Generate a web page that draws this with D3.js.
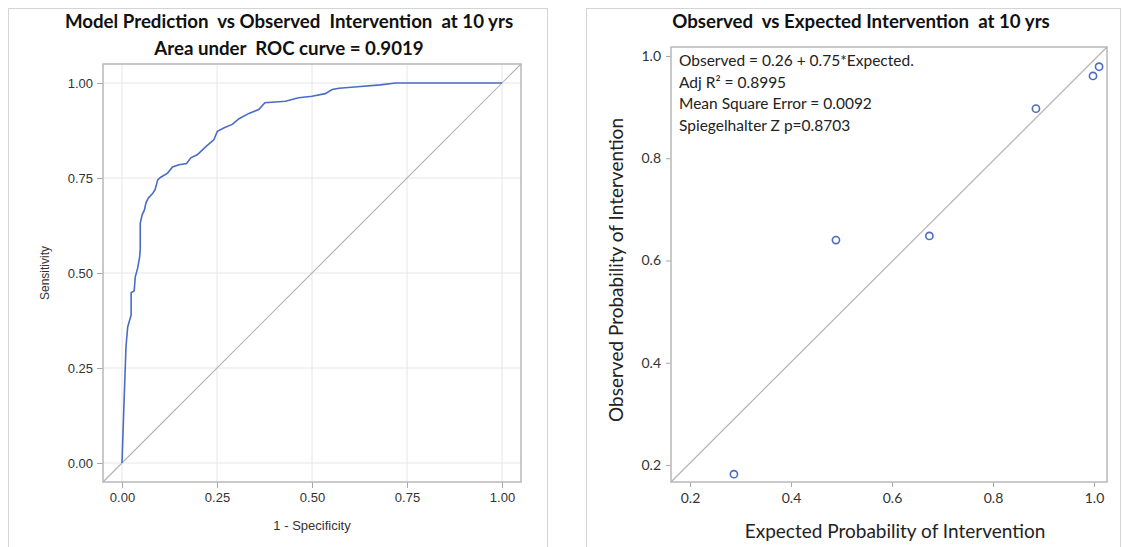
<!DOCTYPE html>
<html>
<head>
<meta charset="utf-8">
<script src="https://cdn.jsdelivr.net/npm/d3@7"></script>
<style>
    body { margin: 0; background: #fff; }
    svg { display: block; }
</style>
</head>
<body>
<svg id="chart" width="1123" height="547"></svg>
<script>
// ROC curve (1 - specificity, sensitivity)
const rocFpr = [0, 0.005, 0.0105, 0.015, 0.024, 0.024, 0.032, 0.035, 0.041, 0.046, 0.048, 0.048, 0.053, 0.059, 0.063, 0.069, 0.081, 0.087, 0.094, 0.102, 0.120, 0.133, 0.150, 0.170, 0.181, 0.198, 0.220, 0.242, 0.251, 0.269, 0.290, 0.308, 0.334, 0.360, 0.376, 0.430, 0.465, 0.500, 0.535, 0.553, 0.571, 0.620, 0.680, 0.720, 1.0];
const rocTpr = [0, 0.15, 0.306, 0.358, 0.389, 0.448, 0.453, 0.490, 0.512, 0.539, 0.561, 0.631, 0.653, 0.666, 0.684, 0.697, 0.710, 0.719, 0.745, 0.752, 0.763, 0.779, 0.785, 0.788, 0.803, 0.811, 0.832, 0.851, 0.873, 0.882, 0.891, 0.906, 0.920, 0.930, 0.948, 0.952, 0.961, 0.965, 0.972, 0.983, 0.986, 0.990, 0.995, 1.0, 1.0];
const rocTicks = [0, 0.25, 0.5, 0.75, 1];

// calibration points (right panel)
const calExpected = [0.287, 0.489, 0.674, 0.885, 0.998, 1.010];
const calObserved = [0.182, 0.640, 0.648, 0.897, 0.961, 0.979];
const calTicks = [0.2, 0.4, 0.6, 0.8, 1.0];

const rocTitle = ["Model Prediction  vs Observed  Intervention  at 10 yrs", "Area under  ROC curve = 0.9019"];
const calTitle = "Observed  vs Expected Intervention  at 10 yrs";
const calNotes = ["Observed = 0.26 + 0.75*Expected.", "Adj R\u00B2 = 0.8995", "Mean Square Error = 0.0092", "Spiegelhalter Z p=0.8703"];

const svg = d3.select("#chart");
const calibri = "Lato, 'Open Sans', sans-serif";
const arial = "'Liberation Sans', Arial, sans-serif";
const blue = "#4a6cc4";

// panel borders
svg.append("rect").attr("x", 8.5).attr("y", 8.5).attr("width", 539).attr("height", 560)
    .attr("fill", "none").attr("stroke", "#d4d4d4");
svg.append("rect").attr("x", 586.5).attr("y", 8.5).attr("width", 534).attr("height", 560)
    .attr("fill", "none").attr("stroke", "#d4d4d4");

// ---------- left panel: ROC ----------
const lx = d3.scaleLinear().domain([-0.05, 1.05]).range([103, 521]);
const ly = d3.scaleLinear().domain([-0.05, 1.05]).range([482, 64]);
const left = svg.append("g");

// gridlines
left.append("g").selectAll("line.v").data(rocTicks).enter().append("line")
    .attr("x1", d => lx(d)).attr("x2", d => lx(d))
    .attr("y1", ly.range()[0]).attr("y2", ly.range()[1])
    .attr("stroke", "#e6e6e6").attr("stroke-width", 1);
left.append("g").selectAll("line.h").data(rocTicks).enter().append("line")
    .attr("x1", lx.range()[0]).attr("x2", lx.range()[1])
    .attr("y1", d => ly(d)).attr("y2", d => ly(d))
    .attr("stroke", "#e6e6e6").attr("stroke-width", 1);

// chance diagonal, corner to corner
left.append("line")
    .attr("x1", lx(-0.05)).attr("y1", ly(-0.05))
    .attr("x2", lx(1.05)).attr("y2", ly(1.05))
    .attr("stroke", "#b4b4b4").attr("stroke-width", 1.2);

const rocLine = d3.line().x(d => lx(d[0])).y(d => ly(d[1]));
left.append("path")
    .datum(d3.zip(rocFpr, rocTpr))
    .attr("d", rocLine)
    .attr("fill", "none").attr("stroke", blue).attr("stroke-width", 1.6);

const lxAxis = left.append("g").attr("transform", `translate(0,${ly.range()[0]})`)
    .call(d3.axisBottom(lx).tickValues(rocTicks).tickFormat(d3.format(".2f")).tickSize(6).tickPadding(5));
const lyAxis = left.append("g").attr("transform", `translate(${lx.range()[0]},0)`)
    .call(d3.axisLeft(ly).tickValues(rocTicks).tickFormat(d3.format(".2f")).tickSize(6).tickPadding(4));
[lxAxis, lyAxis].forEach(a => {
    a.select(".domain").remove();
    a.selectAll(".tick line").attr("stroke", "#a8a8a8");
    a.selectAll(".tick text").attr("fill", "#333").attr("font-family", arial).attr("font-size", 13);
});

// frame
left.append("rect")
    .attr("x", lx.range()[0]).attr("y", ly.range()[1])
    .attr("width", lx.range()[1] - lx.range()[0]).attr("height", ly.range()[0] - ly.range()[1])
    .attr("fill", "none").attr("stroke", "#b8b8b8").attr("stroke-width", 1.5);

left.append("text").attr("x", 312).attr("y", 530).attr("text-anchor", "middle")
    .attr("font-family", arial).attr("font-size", 13).attr("fill", "#333").text("1 - Specificity");
left.append("text").attr("transform", "translate(49,273) rotate(-90)").attr("text-anchor", "middle")
    .attr("font-family", arial).attr("font-size", 12).attr("fill", "#333").text("Sensitivity");

left.selectAll("text.title").data(rocTitle).enter().append("text")
    .attr("x", 289).attr("y", (d, i) => 28 + i * 27)
    .attr("text-anchor", "middle").attr("xml:space", "preserve")
    .attr("font-family", calibri).attr("font-weight", "bold").attr("font-size", 18.7)
    .attr("fill", "#111").text(d => d);

// ---------- right panel: calibration ----------
const rx = d3.scaleLinear().domain([0.1624, 1.0257]).range([671, 1107]);
const ry = d3.scaleLinear().domain([0.1667, 1.0176]).range([482, 47]);
const right = svg.append("g");

right.append("line")
    .attr("x1", rx.range()[0]).attr("y1", ry.range()[0])
    .attr("x2", rx.range()[1]).attr("y2", ry.range()[1])
    .attr("stroke", "#b4b4b4").attr("stroke-width", 1.2);

right.append("g").selectAll("circle")
    .data(d3.zip(calExpected, calObserved)).enter().append("circle")
    .attr("cx", d => rx(d[0])).attr("cy", d => ry(d[1])).attr("r", 3.6)
    .attr("fill", "none").attr("stroke", blue).attr("stroke-width", 1.6);

const rxAxis = right.append("g").attr("transform", `translate(0,${ry.range()[0]})`)
    .call(d3.axisBottom(rx).tickValues(calTicks).tickFormat(d3.format(".1f")).tickSize(5).tickPadding(6));
const ryAxis = right.append("g").attr("transform", `translate(${rx.range()[0]},0)`)
    .call(d3.axisLeft(ry).tickValues(calTicks).tickFormat(d3.format(".1f")).tickSize(5).tickPadding(5));
[rxAxis, ryAxis].forEach(a => {
    a.select(".domain").remove();
    a.selectAll(".tick line").attr("stroke", "#a8a8a8");
    a.selectAll(".tick text").attr("fill", "#333").attr("font-family", calibri).attr("font-size", 14);
});

right.append("rect")
    .attr("x", rx.range()[0]).attr("y", ry.range()[1])
    .attr("width", rx.range()[1] - rx.range()[0]).attr("height", ry.range()[0] - ry.range()[1])
    .attr("fill", "none").attr("stroke", "#b8b8b8").attr("stroke-width", 1.5);

right.selectAll("text.note").data(calNotes).enter().append("text")
    .attr("x", 679).attr("y", (d, i) => 66 + i * 21.5)
    .attr("font-family", calibri).attr("font-size", 15.5).attr("fill", "#222").text(d => d);

right.append("text").attr("x", 895).attr("y", 538).attr("text-anchor", "middle")
    .attr("font-family", calibri).attr("font-size", 19).attr("fill", "#222")
    .text("Expected Probability of Intervention");
right.append("text").attr("transform", "translate(623,270) rotate(-90)").attr("text-anchor", "middle")
    .attr("font-family", calibri).attr("font-size", 19).attr("fill", "#222")
    .text("Observed Probability of Intervention");

right.append("text").attr("x", 861).attr("y", 28).attr("text-anchor", "middle").attr("xml:space", "preserve")
    .attr("font-family", calibri).attr("font-weight", "bold").attr("font-size", 18.7)
    .attr("fill", "#111").text(calTitle);
</script>
</body>
</html>
